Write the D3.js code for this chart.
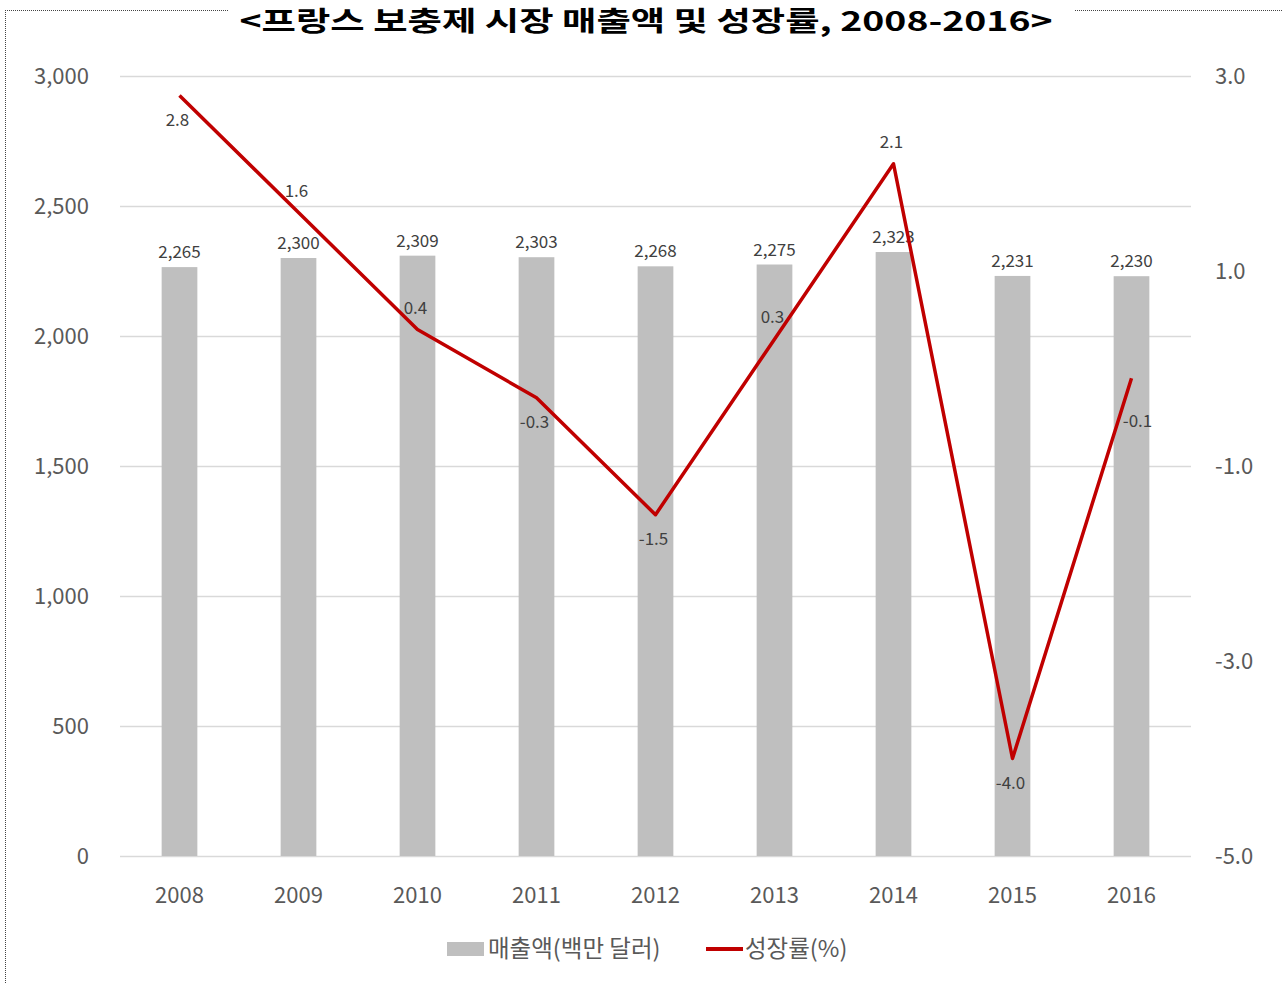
<!DOCTYPE html>
<html>
<head>
<meta charset="utf-8">
<script src="https://cdn.jsdelivr.net/npm/d3@7"></script>
<style>
  body { margin: 0; background: #fff; }
  svg { display: block; font-family: "Noto Sans CJK KR", "Noto Sans", sans-serif; }
</style>
</head>
<body>
<div id="chart"></div>
<script>
// data
var years = ["2008", "2009", "2010", "2011", "2012", "2013", "2014", "2015", "2016"];
var sales = [2265, 2300, 2309, 2303, 2268, 2275, 2323, 2231, 2230];
var growth = [2.8, 1.6, 0.4, -0.3, -1.5, 0.3, 2.1, -4.0, -0.1];
var growthLabelSide = ["below", "above", "above", "below", "below", "above", "above", "below", "belowright"];
var leftTicks = [0, 500, 1000, 1500, 2000, 2500, 3000];
var rightTicks = [3, 1, -1, -3, -5];
var title = "<프랑스 보충제 시장 매출액 및 성장률, 2008-2016>";
var legendNames = ["매출액(백만 달러)", "성장률(%)"];

var W = 1282, H = 984;
var margin = { top: 76, left: 120, right: 91, bottom: 128 };
var plotLeft = margin.left, plotRight = W - margin.right;
var plotTop = margin.top, plotBottom = H - margin.bottom;

var fmt1 = (d) => d.toFixed(1); // plain hyphen minus like the original

var svg = d3.select("#chart").append("svg").attr("width", W).attr("height", H);

var x = d3.scaleBand().domain(years).range([plotLeft, plotRight])
  .paddingInner(0.7).paddingOuter(0.35);
var y = d3.scaleLinear().domain([0, 3000]).range([plotBottom, plotTop]);
var y2 = d3.scaleLinear().domain([-5, 3]).range([plotBottom, plotTop]);

// title + dotted frame
var frame = svg.append("g").attr("stroke", "#444").attr("stroke-width", 1)
  .attr("stroke-dasharray", "1,1").attr("fill", "none");
frame.append("line").attr("x1", 5).attr("x2", 228).attr("y1", 10.5).attr("y2", 10.5);
frame.append("line").attr("x1", 1075).attr("x2", W).attr("y1", 10.5).attr("y2", 10.5);
frame.append("line").attr("x1", 5.5).attr("x2", 5.5).attr("y1", 10).attr("y2", H);

svg.append("text")
  .attr("x", 646).attr("y", 31)
  .attr("text-anchor", "middle")
  .attr("font-size", 27).attr("font-weight", "bold").attr("fill", "#000")
  .attr("textLength", 813).attr("lengthAdjust", "spacingAndGlyphs")
  .text(title);

// gridlines
svg.append("g").selectAll("line").data(leftTicks).join("line")
  .attr("x1", plotLeft).attr("x2", plotRight)
  .attr("y1", (d) => Math.round(y(d)) + 0.5).attr("y2", (d) => Math.round(y(d)) + 0.5)
  .attr("stroke", "#d9d9d9").attr("stroke-width", 1.5);

// axes
var axisStyle = function (g) {
  g.select(".domain").remove();
  g.selectAll("line").remove();
  g.selectAll("text").attr("fill", "#595959").attr("font-size", 22)
    .attr("font-family", "\"Noto Sans CJK KR\", sans-serif");
};

svg.append("g").attr("transform", "translate(95,0)")
  .call(d3.axisLeft(y).tickValues(leftTicks).tickSize(0).tickPadding(6).tickFormat(d3.format(",")))
  .call(axisStyle);

svg.append("g").attr("transform", "translate(1209,0)")
  .call(d3.axisRight(y2).tickValues(rightTicks).tickSize(0).tickPadding(6).tickFormat(fmt1))
  .call(axisStyle);

svg.append("g").attr("transform", `translate(0,${plotBottom})`)
  .call(d3.axisBottom(x).tickSize(0).tickPadding(31))
  .call(axisStyle);

// bars
var rows = years.map((yr, i) => ({ year: yr, sales: sales[i], growth: growth[i], side: growthLabelSide[i] }));

svg.append("g").selectAll("rect").data(rows).join("rect")
  .attr("x", (d) => x(d.year))
  .attr("width", x.bandwidth())
  .attr("y", (d) => y(d.sales))
  .attr("height", (d) => y(0) - y(d.sales))
  .attr("fill", "#bfbfbf");

svg.append("g").selectAll("text").data(rows).join("text")
  .attr("x", (d) => x(d.year) + x.bandwidth() / 2)
  .attr("y", (d) => y(d.sales) - 9)
  .attr("text-anchor", "middle")
  .attr("font-size", 17).attr("fill", "#404040")
  .text((d) => d3.format(",")(d.sales));

// growth line
var cx = (d) => x(d.year) + x.bandwidth() / 2;
var line = d3.line().x(cx).y((d) => y2(d.growth));

svg.append("path").datum(rows)
  .attr("d", line)
  .attr("fill", "none")
  .attr("stroke", "#c00000")
  .attr("stroke-width", 3.5)
  .attr("stroke-linejoin", "round");

svg.append("g").selectAll("text").data(rows).join("text")
  .attr("x", (d) => cx(d) + (d.side == "belowright" ? 6 : -2))
  .attr("y", (d) => y2(d.growth) + (d.side == "above" ? -16 : d.side == "below" ? 30 : 49))
  .attr("text-anchor", "middle")
  .attr("font-size", 17).attr("fill", "#404040")
  .text((d) => fmt1(d.growth));

// legend
var lg = svg.append("g").attr("transform", "translate(0,949)");
lg.append("rect").attr("x", 447).attr("y", -7).attr("width", 37).attr("height", 14).attr("fill", "#bfbfbf");
lg.append("text").attr("x", 488).attr("y", 0).attr("dy", "0.35em")
  .attr("font-size", 23.5).attr("fill", "#595959").text(legendNames[0]);
lg.append("line").attr("x1", 706).attr("x2", 743).attr("y1", 0).attr("y2", 0)
  .attr("stroke", "#c00000").attr("stroke-width", 4);
lg.append("text").attr("x", 745).attr("y", 0).attr("dy", "0.35em")
  .attr("font-size", 23.5).attr("fill", "#595959").text(legendNames[1]);
</script>
</body>
</html>
